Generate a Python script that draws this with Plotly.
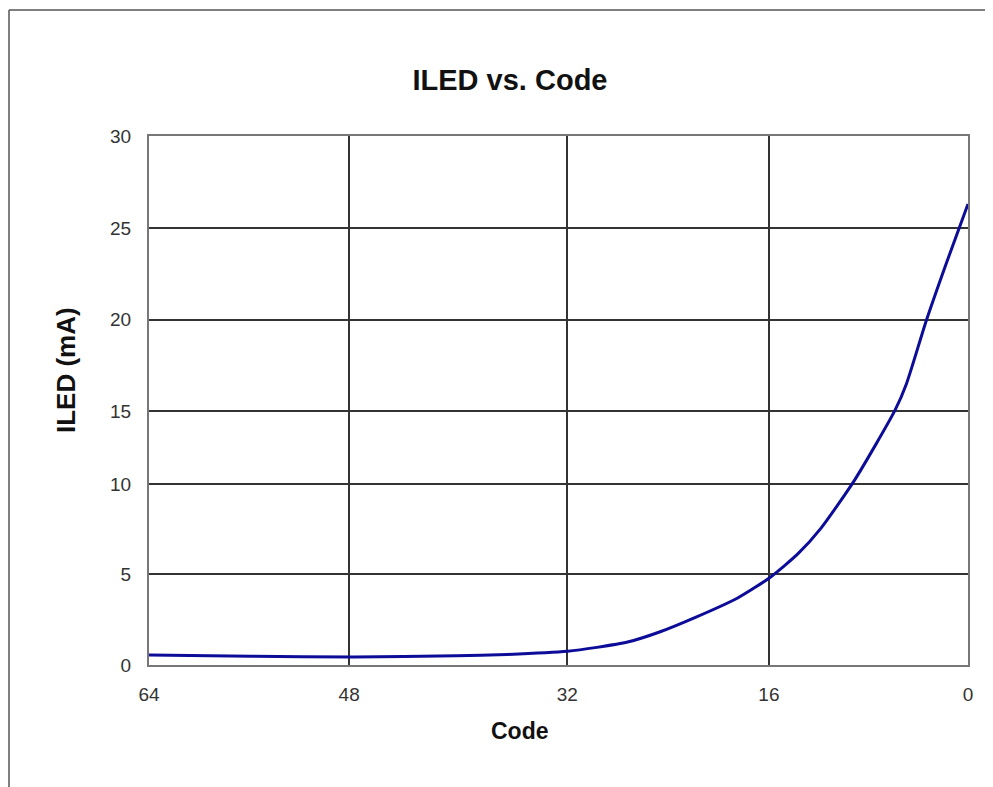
import plotly.graph_objects as go

# Data (x in Code units, y in mA)
code = [64, 56, 48, 40, 36, 31.3, 29, 26.6, 24, 21.3, 18, 15.5, 13.3, 11.5, 8.85, 5.7, 4.8, 3.25, 1.7, 0]
iled = [0.57, 0.5, 0.45, 0.52, 0.6, 0.78, 1.0, 1.3, 1.9, 2.7, 3.8, 4.95, 6.3, 7.75, 10.5, 14.45, 15.97, 19.55, 22.77, 26.15]

# Grid / tick positions as drawn in the reference
x_tickvals = [64, 48.36, 31.31, 15.56, 0]
x_ticktext = ["64", "48", "32", "16", "0"]
y_tickvals = [0, 5.14, 10.27, 14.40, 19.59, 24.79, 30]
y_ticktext = ["0", "5", "10", "15", "20", "25", "30"]

# page body has an 8px margin, so the figure is placed at (8, 8)
OFF = 8
W, H = 993 - OFF, 787 - OFF
L, T = 149 - OFF, 136 - OFF
R = W - (968 - OFF)
B = H - (665 - OFF)
pw, ph = W - L - R, H - T - B


def px(xpage):
    return (xpage - OFF - L) / pw


def py(ypage):
    return (H - B - (ypage - OFF)) / ph


fig = go.Figure()
fig.add_trace(go.Scatter(
    x=code, y=iled, mode="lines",
    line=dict(color="#0c0c98", width=3, shape="spline", smoothing=0.6),
    showlegend=False, hoverinfo="x+y",
))

font = "Liberation Sans, Arial, Helvetica, sans-serif"

fig.update_layout(
    width=W, height=H, autosize=False,
    margin=dict(l=L, r=R, t=T, b=B, autoexpand=False),
    paper_bgcolor="white", plot_bgcolor="white",
    font=dict(family=font, color="#333"),
    title=dict(text="<b>ILED vs. Code</b>", x=(510 - OFF) / W, xanchor="center",
               xref="container", yref="container", y=1 - (80 - OFF) / H, yanchor="middle",
               font=dict(size=29, color="#111", family=font)),
    xaxis=dict(
        range=[64, 0], tickvals=x_tickvals, ticktext=x_ticktext,
        showgrid=True, gridcolor="#333", gridwidth=1.5,
        showline=True, mirror=True, linecolor="#777", linewidth=2,
        ticks="", ticklabelstandoff=11, zeroline=False,
        tickfont=dict(size=19, color="#333"),
    ),
    yaxis=dict(
        range=[0, 30], tickvals=y_tickvals, ticktext=y_ticktext,
        showgrid=True, gridcolor="#333", gridwidth=1.5,
        showline=True, mirror=True, linecolor="#777", linewidth=2,
        ticks="", ticklabelstandoff=12, zeroline=False,
        tickfont=dict(size=19, color="#333"),
    ),
)

fig.add_annotation(text="<b>Code</b>", xref="paper", yref="paper",
                   x=px(520), y=py(731), xanchor="center", yanchor="middle",
                   showarrow=False, font=dict(size=23, color="#111", family=font))
fig.add_annotation(text="<b>ILED (mA)</b>", xref="paper", yref="paper",
                   x=px(66), y=py(370), xanchor="center", yanchor="middle", textangle=-90,
                   showarrow=False, font=dict(size=26, color="#111", family=font))

# Outer frame lines (top and left) as in the reference
fx = px(9)
fy = py(10)
fig.add_shape(type="line", xref="paper", yref="paper", x0=fx, x1=px(1000),
              y0=fy, y1=fy, line=dict(color="#555", width=1.5))
fig.add_shape(type="line", xref="paper", yref="paper", x0=fx, x1=fx,
              y0=fy, y1=py(800), line=dict(color="#555", width=1.5))

fig.write_html("out.html")
